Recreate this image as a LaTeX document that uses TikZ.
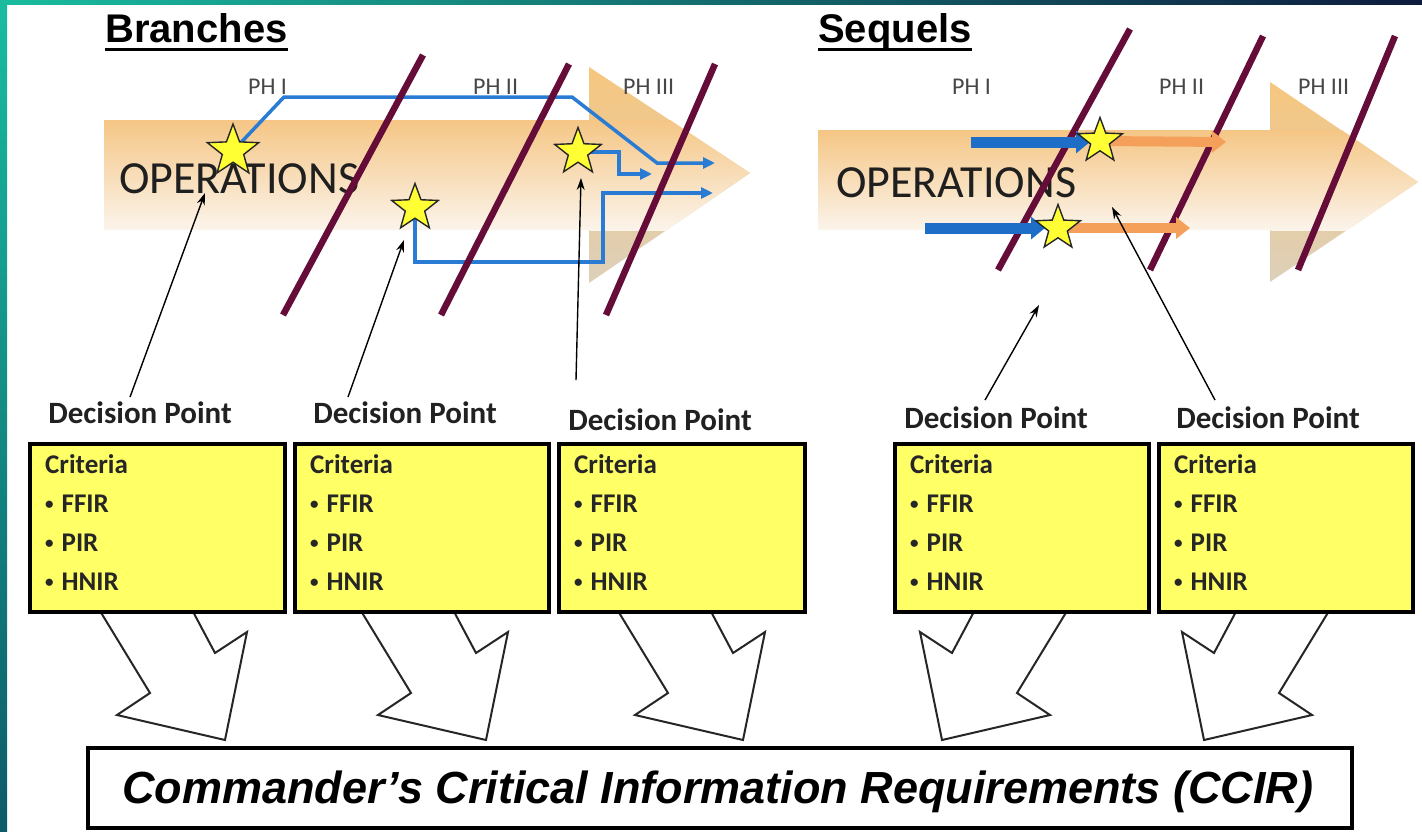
\documentclass[tikz,border=0pt]{standalone}
\usepackage{fontspec}
\setmainfont{Carlito}
\newfontfamily\arialfont{Liberation Sans}
\usetikzlibrary{shapes.geometric,arrows.meta}
\definecolor{mroon}{HTML}{650C38}
\definecolor{tealA}{HTML}{19BC9F}
\definecolor{tealB}{HTML}{0D5A68}
\definecolor{navyT}{HTML}{0E1B3D}
\definecolor{bodyTop}{HTML}{F5C685}
\definecolor{bodyBot}{HTML}{FBF4EB}
\definecolor{headTop}{HTML}{F6C67E}
\definecolor{headMid}{HTML}{F8E2C4}
\definecolor{headBot}{HTML}{DDD0BA}
\definecolor{boxyellow}{HTML}{FFFF66}
\definecolor{staryellow}{HTML}{FFFF33}
\definecolor{bluel}{HTML}{2A7BD3}
\definecolor{bluef}{HTML}{1E6EC8}
\definecolor{orangef}{HTML}{F5A05A}
\tikzset{
  dp/.style={font=\bfseries\fontsize{31}{36}\selectfont, text=black!87, inner sep=0pt, anchor=base},
  crit/.style={font=\bfseries\fontsize{27}{32}\selectfont, text=black!85, inner sep=0pt, anchor=base west},
  ybox/.style={draw=black, line width=4pt, fill=boxyellow, minimum height=168pt, anchor=north west, inner sep=0pt},
  ph/.style={font=\fontsize{24}{28}\selectfont, text=black!72, inner sep=0pt, anchor=base west},
  ops/.style={font=\fontsize{46}{52}\selectfont, text=black!88, inner sep=0pt, anchor=base west},
  ttl/.style={font=\arialfont\bfseries\fontsize{40}{46}\selectfont, inner sep=0pt, anchor=base west},
  mline/.style={draw=mroon, line width=6.5pt},
  bline/.style={draw=bluel, line width=3.5pt, -{Triangle[length=12pt,width=11pt]}},
  fatb/.style={draw=bluef, line width=11pt, -{Triangle[length=14pt,width=22pt]}},
  fato/.style={draw=orangef, line width=10pt, -{Triangle[length=14pt,width=21pt]}},
  ann/.style={draw=black, line width=1.4pt, -{Stealth[length=12pt,width=8pt]}},
  hollow/.style={draw=black!85, line width=2pt, fill=white, line join=miter},
  starn/.style={star, star points=5, star point ratio=2.4, fill=staryellow, draw=black!85, line width=1.4pt, inner sep=0pt},
  opsbody/.style={top color=bodyTop, bottom color=bodyBot},
  opshead/.style={top color=headTop, middle color=headMid, bottom color=headBot}
}
\newcommand\smbul{\raisebox{3pt}{\fontsize{17}{18}\selectfont •}\hspace{8pt}}
\newcommand\critbox[4]{%
  \node[ybox, minimum width=#4] (#1) at (#2,#3) {};
  \node[crit] (#1a) at ([xshift=17pt,yshift=-31pt]#1.north west) {Criteria};
  \node[crit] (#1b) at ([xshift=17pt,yshift=-70pt]#1.north west) {\smbul FFIR};
  \node[crit] (#1c) at ([xshift=17pt,yshift=-109pt]#1.north west) {\smbul PIR};
  \node[crit] (#1d) at ([xshift=17pt,yshift=-148pt]#1.north west) {\smbul HNIR};
}
\begin{document}
\begin{tikzpicture}[x=1pt,y=-1pt]
\useasboundingbox (0,0) rectangle (1422,831);
\fill[white] (0,0) rectangle (1422,831);
% frame strips
\shade[top color=tealA, bottom color=tealB] (0,0) rectangle (7,831);
\shade[left color=tealA, right color=navyT] (0,0) rectangle (1422,4);

% titles
\node[ttl] (brt) at (105,42) {Branches};
\draw[line width=3pt] ([yshift=-7pt]brt.base west) -- ([yshift=-7pt]brt.base east);
\node[ttl] (sqt) at (818,42) {Sequels};
\draw[line width=3pt] ([yshift=-7pt]sqt.base west) -- ([yshift=-7pt]sqt.base east);

% big operations arrows
\shade[opshead] (589,67) -- (750,173) -- (589,283) -- cycle;
\begin{scope}
  \clip (104,120) -- (590,120) -- (590,67) -- (750,173) -- (590,283) -- (590,230) -- (104,230) -- cycle;
  \shade[opsbody] (104,120) rectangle (760,230);
\end{scope}
\shade[opshead] (1270,82) -- (1418,182) -- (1270,282) -- cycle;
\begin{scope}
  \clip (818,130) -- (1271,130) -- (1271,82) -- (1418,182) -- (1271,282) -- (1271,230) -- (818,230) -- cycle;
  \shade[opsbody] (818,130) rectangle (1420,230);
\end{scope}

\node[ops] (ops1) at (119,193) {OPERATIONS};
\node[ops] (ops2) at (836,197) {OPERATIONS};

% phase labels
\node[ph] (pa1) at (248,94) {PH I};
\node[ph] (pa2) at (473,94) {PH II};
\node[ph] (pa3) at (623,94) {PH III};
\node[ph] (pb1) at (952,94) {PH I};
\node[ph] (pb2) at (1159,94) {PH II};
\node[ph] (pb3) at (1298,94) {PH III};

% star positions
\coordinate (c1) at (233,151);
\coordinate (c2) at (415,208);
\coordinate (c3) at (578,152);
\coordinate (c4) at (1100,141);
\coordinate (c5) at (1058,228);

% branch lines
\draw[bline] (c1) -- (284,97) -- (572,97) -- (657,163) -- (715,163);
\draw[bline] (c3) -- (619,152) -- (619,174) -- (652,174);
\draw[bline] (c2) -- (415,262) -- (603,262) -- (603,193) -- (713,193);

% phase lines
\draw[mline] (283,315) -- (423,55);
\draw[mline] (441,315) -- (569,64);
\draw[mline] (606,315) -- (715,64);
\draw[mline] (998,270) -- (1130,29);
\draw[mline] (1150,270) -- (1263,36);
\draw[mline] (1298,270) -- (1395,36);

% sequel arrows
\coordinate (qa) at (971,142);
\coordinate (qb) at (925,228);
\coordinate (qc) at (1226,142);
\coordinate (qd) at (1190,228);
\draw[fato] (c4) -- (qc);
\draw[fato] (c5) -- (qd);
\draw[fatb] (qa) -- (1090,142);
\draw[fatb] (qb) -- (1045,228);

% stars
\node[starn, minimum size=54pt] (s1) at (c1) {};
\node[starn, minimum size=49pt] (s2) at (c2) {};
\node[starn, minimum size=49pt] (s3) at (c3) {};
\node[starn, minimum size=47pt] (s4) at (c4) {};
\node[starn, minimum size=47pt] (s5) at (c5) {};

% hollow block arrows
\draw[hollow] (97,606) -- (150,693) -- (117,715) -- (225,740) -- (247,632) -- (215,653) -- (190,606) -- cycle;
\draw[hollow] (358,606) -- (411,693) -- (378,715) -- (486,740) -- (508,632) -- (476,653) -- (451,606) -- cycle;
\draw[hollow] (615,606) -- (668,693) -- (635,715) -- (743,740) -- (765,632) -- (733,653) -- (708,606) -- cycle;
\draw[hollow] (1070,606) -- (1017,693) -- (1050,715) -- (942,740) -- (920,632) -- (952,653) -- (977,606) -- cycle;
\draw[hollow] (1332,606) -- (1279,693) -- (1312,715) -- (1204,740) -- (1182,632) -- (1214,653) -- (1239,606) -- cycle;

% criteria boxes
\critbox{b1}{28}{442}{255pt}
\critbox{b2}{293}{442}{254pt}
\critbox{b3}{557}{442}{246pt}
\critbox{b4}{893}{442}{254pt}
\critbox{b5}{1157}{442}{254pt}

% decision point labels
\node[dp] (dp1) at (140,423) {Decision Point};
\node[dp] (dp2) at (405,423) {Decision Point};
\node[dp] (dp3) at (660,430) {Decision Point};
\node[dp] (dp4) at (996,428) {Decision Point};
\node[dp] (dp5) at (1268,428) {Decision Point};

% annotation arrows
\coordinate (t1) at (205,193);
\coordinate (t2) at (404,240);
\coordinate (t3) at (581,178);
\coordinate (t4) at (1039,305);
\coordinate (t5) at (1112,207);
\draw[ann] ([xshift=-10pt,yshift=4pt]dp1.north) -- (t1);
\draw[ann] ([xshift=-57pt,yshift=4pt]dp2.north) -- (t2);
\draw[ann] ([xshift=-84pt,yshift=28pt]dp3.north) -- (t3);
\draw[ann] ([xshift=-11pt,yshift=6pt]dp4.north) -- (t4);
\draw[ann] ([xshift=-53pt,yshift=6pt]dp5.north) -- (t5);

% CCIR box
\node[draw=black, line width=4pt, fill=white, minimum width=1264pt, minimum height=80pt, inner sep=0pt] (ccir) at (720,788) {};
\node[font=\arialfont\bfseries\itshape\fontsize{45}{52}\selectfont, inner sep=0pt, anchor=base] (ccirt) at (718,803) {Commander’s Critical Information Requirements (CCIR)};
\end{tikzpicture}
\end{document}
